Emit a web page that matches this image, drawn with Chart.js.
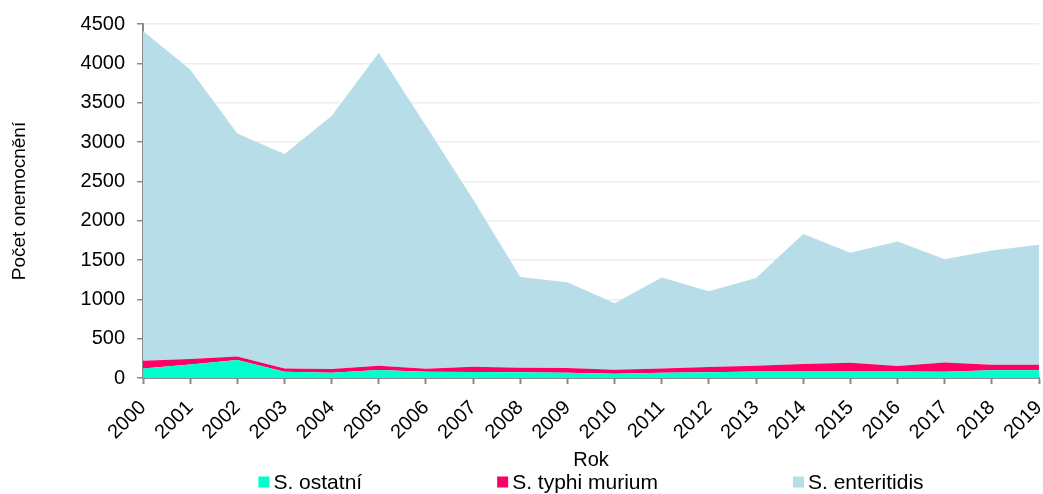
<!DOCTYPE html>
<html>
<head>
<meta charset="utf-8">
<script src="https://cdn.jsdelivr.net/npm/chart.js@4"></script>
<style>
  html, body { margin: 0; padding: 0; background: #ffffff; }
  #wrap { width: 1043px; height: 494px; }
</style>
</head>
<body>
<div id="wrap"><canvas id="c" width="1043" height="494"></canvas></div>
<script>
// Hlášená onemocnění salmonelózou podle sérotypu, 2000–2019
const years = ['2000','2001','2002','2003','2004','2005','2006','2007','2008','2009',
               '2010','2011','2012','2013','2014','2015','2016','2017','2018','2019'];
const ostatni      = [122, 173, 228, 80, 68, 101, 78, 76, 72, 68, 55, 68, 72, 84, 84, 84, 84, 80, 97, 97];
const typhiMurium  = [97, 67, 46, 42, 46, 55, 38, 67, 59, 59, 50, 54, 67, 72, 93, 110, 68, 118, 72, 72];
const enteritidis  = [4191, 3683, 2834, 2725, 3218, 3978, 3089, 2127, 1154, 1090,
                      846, 1154, 964, 1116, 1652, 1399, 1584, 1310, 1453, 1525];
const seriesNames  = ['S. ostatní', 'S. typhi murium', 'S. enteritidis'];
const seriesColors = ['#00FFCC', '#FF0066', '#B7DDE8'];
const yMax = 4500, yStep = 500;

const FONT = '"Liberation Sans", Arial, sans-serif';
const AXIS_GRAY = '#8a8a8a';

// legend row under the axis title, centred on the plot area
const bottomLegend = {
  id: 'bottomLegend',
  afterDraw(chart) {
    const ctx = chart.ctx, area = chart.chartArea;
    const box = 11, textGap = 4, itemGap = 135, y = 482;
    ctx.save();
    ctx.font = '21px ' + FONT;
    ctx.textBaseline = 'middle';
    ctx.textAlign = 'left';
    const items = chart.data.datasets.map(ds => ({
      text: ds.label,
      color: ds.backgroundColor,
      w: box + textGap + ctx.measureText(ds.label).width
    }));
    const total = items.reduce((s, it) => s + it.w, 0) + itemGap * (items.length - 1);
    let x = (area.left + area.right) / 2 - total / 2;
    items.forEach(it => {
      ctx.fillStyle = it.color;
      ctx.fillRect(x, y - box / 2, box, box);
      ctx.fillStyle = '#000000';
      ctx.fillText(it.text, x + box + textGap, y + 1);
      x += it.w + itemGap;
    });
    ctx.restore();
  }
};

const seriesData = [ostatni, typhiMurium, enteritidis];
const datasets = seriesData.map((vals, i) => ({
  label: seriesNames[i],
  data: vals,
  backgroundColor: seriesColors[i],
  borderColor: 'transparent',
  borderWidth: 0,
  pointRadius: 0,
  tension: 0,
  fill: i === 0 ? 'origin' : '-1'
}));

new Chart(document.getElementById('c'), {
  type: 'line',
  data: { labels: years, datasets },
  plugins: [bottomLegend],
  options: {
    responsive: false,
    animation: false,
    events: [],
    layout: { padding: { top: 23, right: 4, left: 8, bottom: 22 } },
    plugins: {
      legend: { display: false },
      tooltip: { enabled: false }
    },
    scales: {
      x: {
        offset: false,
        afterFit(scale) {
          scale.height = 94;
          scale.paddingLeft = 0;
          scale.paddingRight = 0;
        },
        border: { display: true, color: AXIS_GRAY, width: 2 },
        grid: { drawOnChartArea: false, drawTicks: true, tickLength: 6, tickColor: AXIS_GRAY, tickWidth: 2 },
        ticks: { minRotation: 45, maxRotation: 45, autoSkip: false, padding: 12, color: '#000000', font: { family: FONT, size: 20 } },
        title: { display: true, text: 'Rok', color: '#000000', font: { family: FONT, size: 20 }, padding: { top: 0, bottom: 0 } }
      },
      y: {
        stacked: true,
        min: 0,
        max: yMax,
        afterFit(scale) { scale.width = 135; },
        border: { display: true, color: AXIS_GRAY, width: 2 },
        grid: { color: '#eeeeee', lineWidth: 1.5, drawTicks: true, tickLength: 6, tickColor: AXIS_GRAY, tickWidth: 1.5 },
        ticks: {
          stepSize: yStep,
          padding: 12,
          color: '#000000',
          font: { family: FONT, size: 20 },
          callback: v => String(v)
        },
        title: { display: true, text: 'Počet onemocnění', color: '#000000', font: { family: FONT, size: 19 }, padding: { top: 0, bottom: 0 } }
      }
    }
  }
});
</script>
</body>
</html>
